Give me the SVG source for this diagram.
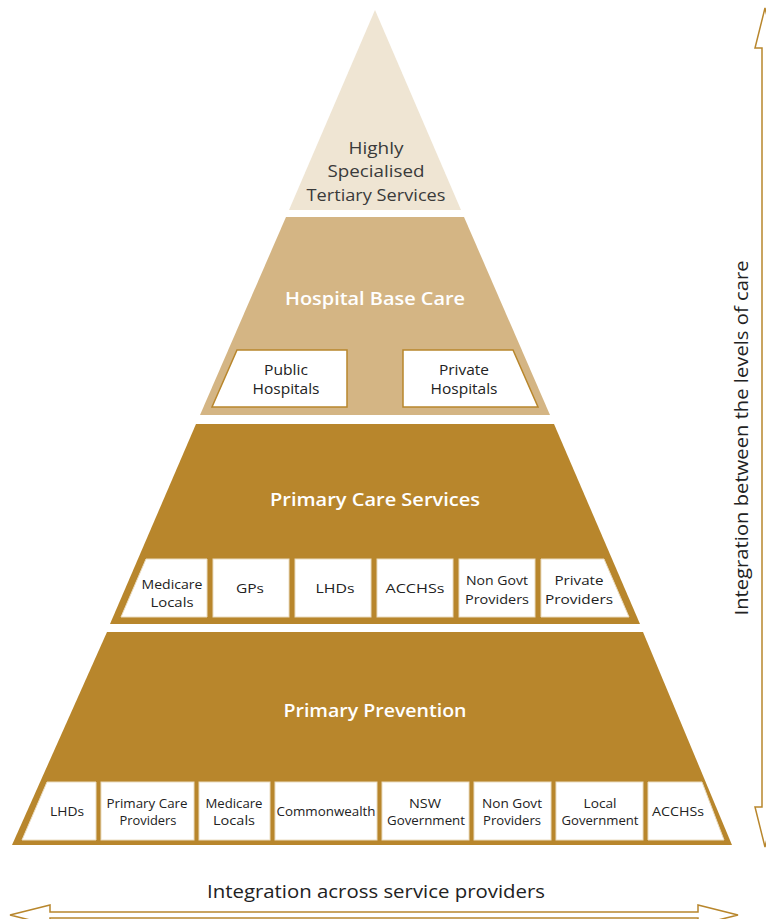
<svg xmlns="http://www.w3.org/2000/svg" width="766" height="919" viewBox="0 0 766 919">
<style>
text{font-family:"Open Sans","DejaVu Sans",sans-serif;text-anchor:middle}
.head{fill:#ffffff;font-weight:600;font-size:18px}
.apex{fill:#3a3a3a;font-size:17px}
.hb{fill:#ffffff;stroke:#b8862c;stroke-width:1.5}
.wb{fill:#ffffff;stroke:#eadcc0;stroke-width:1}
.t14{fill:#222;font-size:14.5px}
.t13{fill:#222;font-size:13.5px}
.t12{fill:#222;font-size:13px}
.side{fill:#222;font-size:18px}
.arrow{fill:#ffffff;stroke:#b8862c;stroke-width:1.5;stroke-linejoin:miter}
</style>
<rect width="766" height="919" fill="#ffffff"/>

<g id="tier-tertiary">
<polygon points="375,10 461,210 289,210" fill="#efe5d3"/>
<text class="apex" x="376" y="154" textLength="55" lengthAdjust="spacingAndGlyphs">Highly</text>
<text class="apex" x="376" y="177" textLength="97" lengthAdjust="spacingAndGlyphs">Specialised</text>
<text class="apex" x="376" y="201" textLength="139" lengthAdjust="spacingAndGlyphs">Tertiary Services</text>
</g>

<g id="tier-hospital">
<polygon points="286,217 464,217 550,415 200,415" fill="#d4b584"/>
<text class="head" x="375" y="305" textLength="180" lengthAdjust="spacingAndGlyphs">Hospital Base Care</text>
</g>
<g id="node-public-hospitals">
<polygon class="hb" points="237,350 347,350 347,407 212,407"/>
<text class="t14" x="286" y="375" textLength="44" lengthAdjust="spacingAndGlyphs">Public</text>
<text class="t14" x="286" y="394" textLength="67" lengthAdjust="spacingAndGlyphs">Hospitals</text>
</g>
<g id="node-private-hospitals">
<polygon class="hb" points="403,350 513,350 538,407 403,407"/>
<text class="t14" x="464" y="375" textLength="50" lengthAdjust="spacingAndGlyphs">Private</text>
<text class="t14" x="464" y="394" textLength="67" lengthAdjust="spacingAndGlyphs">Hospitals</text>
</g>

<g id="tier-primary-care">
<polygon points="196,424 554,424 640,624 110,624" fill="#b8862c"/>
<text class="head" x="375" y="506" textLength="210" lengthAdjust="spacingAndGlyphs">Primary Care Services</text>
</g>
<g id="pc-medicare-locals">
<polygon class="wb" points="146,559 207,559 207,617 121,617"/>
<text class="t13" x="172" y="589" textLength="61" lengthAdjust="spacingAndGlyphs">Medicare</text>
<text class="t13" x="172" y="607" textLength="43" lengthAdjust="spacingAndGlyphs">Locals</text>
</g>
<g id="pc-gps">
<rect class="wb" x="213" y="559" width="76" height="58"/>
<text class="t13" x="250" y="593" textLength="28" lengthAdjust="spacingAndGlyphs">GPs</text>
</g>
<g id="pc-lhds">
<rect class="wb" x="295" y="559" width="76" height="58"/>
<text class="t13" x="335" y="593" textLength="39" lengthAdjust="spacingAndGlyphs">LHDs</text>
</g>
<g id="pc-acchss">
<rect class="wb" x="377" y="559" width="76" height="58"/>
<text class="t13" x="415" y="593" textLength="59" lengthAdjust="spacingAndGlyphs">ACCHSs</text>
</g>
<g id="pc-non-govt">
<rect class="wb" x="459" y="559" width="76" height="58"/>
<text class="t13" x="497" y="585" textLength="62" lengthAdjust="spacingAndGlyphs">Non Govt</text>
<text class="t13" x="497" y="604" textLength="64" lengthAdjust="spacingAndGlyphs">Providers</text>
</g>
<g id="pc-private">
<polygon class="wb" points="541,559 604,559 629,617 541,617"/>
<text class="t13" x="579" y="585" textLength="49" lengthAdjust="spacingAndGlyphs">Private</text>
<text class="t13" x="579" y="604" textLength="68" lengthAdjust="spacingAndGlyphs">Providers</text>
</g>

<g id="tier-primary-prevention">
<polygon points="107,632 643,632 732,845 12,845" fill="#b8862c"/>
<text class="head" x="375" y="717" textLength="183" lengthAdjust="spacingAndGlyphs">Primary Prevention</text>
</g>
<g id="pp-lhds">
<polygon class="wb" points="47,782 96,782 96,840 22,840"/>
<text class="t12" x="67" y="816" textLength="34" lengthAdjust="spacingAndGlyphs">LHDs</text>
</g>
<g id="pp-primary-care-providers">
<rect class="wb" x="101" y="782" width="93" height="58"/>
<text class="t12" x="147" y="808" textLength="81" lengthAdjust="spacingAndGlyphs">Primary Care</text>
<text class="t12" x="148" y="825" textLength="57" lengthAdjust="spacingAndGlyphs">Providers</text>
</g>
<g id="pp-medicare-locals">
<rect class="wb" x="199" y="782" width="71" height="58"/>
<text class="t12" x="234" y="808" textLength="57" lengthAdjust="spacingAndGlyphs">Medicare</text>
<text class="t12" x="234" y="825" textLength="42" lengthAdjust="spacingAndGlyphs">Locals</text>
</g>
<g id="pp-commonwealth">
<rect class="wb" x="275" y="782" width="102" height="58"/>
<text class="t12" x="326" y="816" textLength="99" lengthAdjust="spacingAndGlyphs">Commonwealth</text>
</g>
<g id="pp-nsw-government">
<rect class="wb" x="382" y="782" width="87" height="58"/>
<text class="t12" x="425" y="808" textLength="32" lengthAdjust="spacingAndGlyphs">NSW</text>
<text class="t12" x="426" y="825" textLength="78" lengthAdjust="spacingAndGlyphs">Government</text>
</g>
<g id="pp-non-govt">
<rect class="wb" x="474" y="782" width="77" height="58"/>
<text class="t12" x="512" y="808" textLength="60" lengthAdjust="spacingAndGlyphs">Non Govt</text>
<text class="t12" x="512" y="825" textLength="58" lengthAdjust="spacingAndGlyphs">Providers</text>
</g>
<g id="pp-local-government">
<rect class="wb" x="556" y="782" width="87" height="58"/>
<text class="t12" x="600" y="808" textLength="33" lengthAdjust="spacingAndGlyphs">Local</text>
<text class="t12" x="600" y="825" textLength="77" lengthAdjust="spacingAndGlyphs">Government</text>
</g>
<g id="pp-acchss">
<polygon class="wb" points="648,782 702,782 724,840 648,840"/>
<text class="t12" x="678" y="816" textLength="52" lengthAdjust="spacingAndGlyphs">ACCHSs</text>
</g>

<g id="connectors">
<polygon class="arrow" points="765,8 775,48 768,48 768,807 775,807 765,847 755,807 762,807 762,48 755,48"/>
<polygon class="arrow" points="10,915 50,905 50,912 698,912 698,905 738,915 698,925 698,918 50,918 50,925"/>
</g>

<g id="labels">
<text class="side" transform="translate(748,438) rotate(-90)" textLength="355" lengthAdjust="spacingAndGlyphs">Integration between the levels of care</text>
<text class="side" x="376" y="898" textLength="338" lengthAdjust="spacingAndGlyphs">Integration across service providers</text>
</g>
</svg>
